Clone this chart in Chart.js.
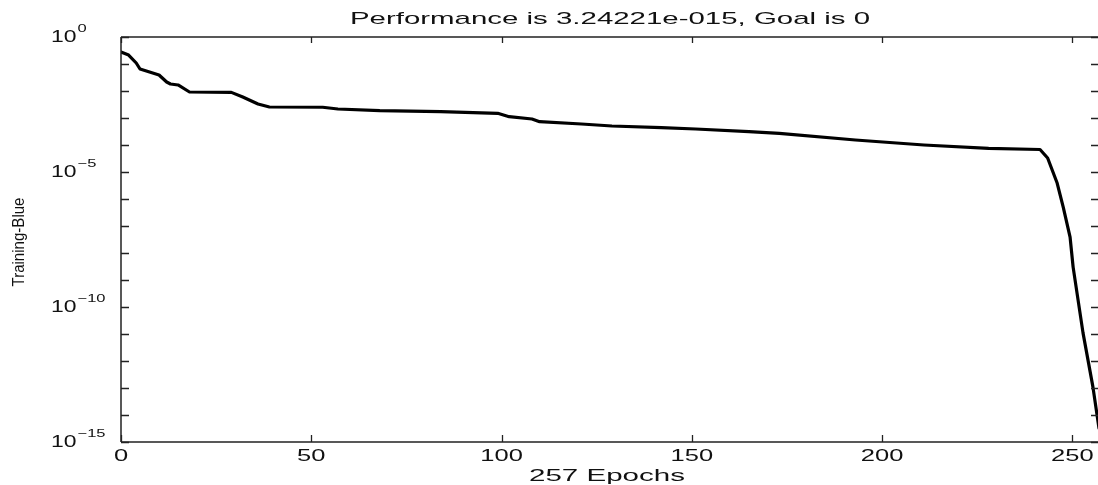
<!DOCTYPE html>
<html>
<head>
<meta charset="utf-8">
<title>Training performance</title>
<script src="https://cdn.jsdelivr.net/npm/chart.js@4.4.1/dist/chart.umd.min.js"></script>
<style>
  html, body { margin: 0; padding: 0; background: #ffffff; overflow: hidden; }
  #wrap { width: 1100px; height: 485px; }
</style>
</head>
<body>
<div id="wrap"><canvas id="perf" width="1100" height="485"></canvas></div>
<script>
// Training record: epoch number and mean squared error reached at that epoch
const epochs = [0, 2, 4, 5, 10, 12, 13, 15, 18, 29, 32, 36, 39, 53, 57, 68, 84, 99, 102, 108, 110,
  121, 129, 142, 151, 165, 173, 193, 211, 228, 241.5, 243.5, 246, 247.6, 249.4, 250.2, 252.8, 255.4, 257];
const performance = [0.278, 0.215, 0.109, 0.0653, 0.0392, 0.0215, 0.0182, 0.0167, 0.00918, 0.0089,
  0.0060, 0.0033, 0.00255, 0.0025, 0.00215, 0.00186, 0.00171, 0.00149, 0.00112, 0.00092, 0.00073,
  0.00060, 0.000506, 0.000438, 0.000392, 0.000311, 0.000271, 0.000153, 0.0001, 7.55e-5, 6.8e-5,
  3.3e-5, 3.9e-6, 5.0e-7, 3.9e-8, 3.0e-9, 1.1e-11, 1.1e-13, 3.24221e-15];

const xTicks = [0, 50, 100, 150, 200, 250];
const yTickExps = [0, -5, -10, -15];
const yMinorExps = [-1, -2, -3, -4, -6, -7, -8, -9, -11, -12, -13, -14];

const titleText = 'Performance is 3.24221e-015, Goal is 0';
const xTitle = '257 Epochs';
const yTitle = 'Training-Blue';

const FONT = '"Liberation Sans", Arial, Helvetica, sans-serif';
const SX = 1.5; // horizontal stretch of the axis lettering

function drawStretched(ctx, text, x, y, size, sx, align) {
  ctx.save();
  ctx.font = size + 'px ' + FONT;
  ctx.textBaseline = 'middle';
  ctx.textAlign = 'left';
  const w = ctx.measureText(text).width * sx;
  let left = x;
  if (align === 'center') left = x - w / 2;
  else if (align === 'right') left = x - w;
  ctx.translate(left, y);
  ctx.scale(sx, 1);
  ctx.fillText(text, 0, 0);
  ctx.restore();
  return w;
}

function drawFitted(ctx, text, cx, cy, size, width) {
  ctx.save();
  ctx.font = size + 'px ' + FONT;
  const sx = width / ctx.measureText(text).width;
  ctx.restore();
  drawStretched(ctx, text, cx, cy, size, sx, 'center');
}

const frame = {
  id: 'frame',
  afterDraw(chart) {
    const ctx = chart.ctx;
    const a = chart.chartArea;
    const xs = chart.scales.x;
    const ys = chart.scales.y;
    ctx.save();
    ctx.fillStyle = '#111';
    ctx.strokeStyle = '#222';

    // axes box
    ctx.lineWidth = 1.5;
    ctx.beginPath();
    ctx.moveTo(a.left, a.top); ctx.lineTo(a.right, a.top);
    ctx.moveTo(a.left, a.top); ctx.lineTo(a.left, a.bottom);
    ctx.moveTo(a.left, a.bottom); ctx.lineTo(a.right, a.bottom);
    ctx.moveTo(a.right, a.top); ctx.lineTo(a.right, a.bottom);
    ctx.stroke();

    // tick marks, pointing inwards on all four sides
    ctx.lineWidth = 1.3;
    ctx.beginPath();
    xTicks.forEach(v => {
      const px = Math.round(xs.getPixelForValue(v)) + 0.5;
      ctx.moveTo(px, a.bottom); ctx.lineTo(px, a.bottom - 7);
      ctx.moveTo(px, a.top); ctx.lineTo(px, a.top + 6);
    });
    yTickExps.concat(yMinorExps).forEach(e => {
      const py = Math.round(ys.getPixelForValue(Math.pow(10, e))) + 0.5;
      ctx.moveTo(a.left, py); ctx.lineTo(a.left + 8, py);
      ctx.moveTo(a.right, py); ctx.lineTo(a.right - 8, py);
    });
    ctx.stroke();

    // x tick labels
    xTicks.forEach(v => {
      drawStretched(ctx, String(v), xs.getPixelForValue(v), 456, 17, SX, 'center');
    });

    // y tick labels as powers of ten
    yTickExps.forEach(e => {
      const py = ys.getPixelForValue(Math.pow(10, e));
      const w = drawStretched(ctx, '10', 51, py, 17, 1.35, 'left');
      drawStretched(ctx, String(e).replace('-', '\u2212'), 51 + w + 1, py - 8, 11, SX, 'left');
    });

    // titles
    const mid = (a.left + a.right) / 2;
    drawFitted(ctx, titleText, mid, 19, 17, 520);
    drawFitted(ctx, xTitle, mid - 3, 476, 17, 156);

    ctx.save();
    ctx.translate(19, 242);
    ctx.rotate(-Math.PI / 2);
    ctx.font = '15px ' + FONT;
    const tw = ctx.measureText(yTitle).width;
    ctx.scale(89 / tw, 1.1);
    ctx.textAlign = 'center';
    ctx.textBaseline = 'middle';
    ctx.fillText(yTitle, 0, 0);
    ctx.restore();

    ctx.restore();
  }
};

new Chart(document.getElementById('perf'), {
  type: 'line',
  data: {
    datasets: [{
      label: 'Training',
      data: epochs.map((e, i) => ({ x: e, y: performance[i] })),
      borderColor: '#000000',
      borderWidth: 3.2,
      pointRadius: 0,
      tension: 0,
      borderJoinStyle: 'round',
      borderCapStyle: 'round',
      fill: false
    }]
  },
  options: {
    responsive: false,
    animation: false,
    devicePixelRatio: 1,
    layout: { padding: { top: 37, right: 1, left: 0, bottom: 0 } },
    plugins: { legend: { display: false }, title: { display: false }, tooltip: { enabled: false } },
    scales: {
      x: {
        type: 'linear', min: 0, max: 257,
        grid: { display: false }, border: { display: false },
        ticks: { display: false },
        afterFit(scale) { scale.height = 43; }
      },
      y: {
        type: 'logarithmic', min: 1e-15, max: 1,
        grid: { display: false }, border: { display: false },
        ticks: { display: false },
        afterFit(scale) { scale.width = 121; }
      }
    }
  },
  plugins: [frame]
});
</script>
</body>
</html>
